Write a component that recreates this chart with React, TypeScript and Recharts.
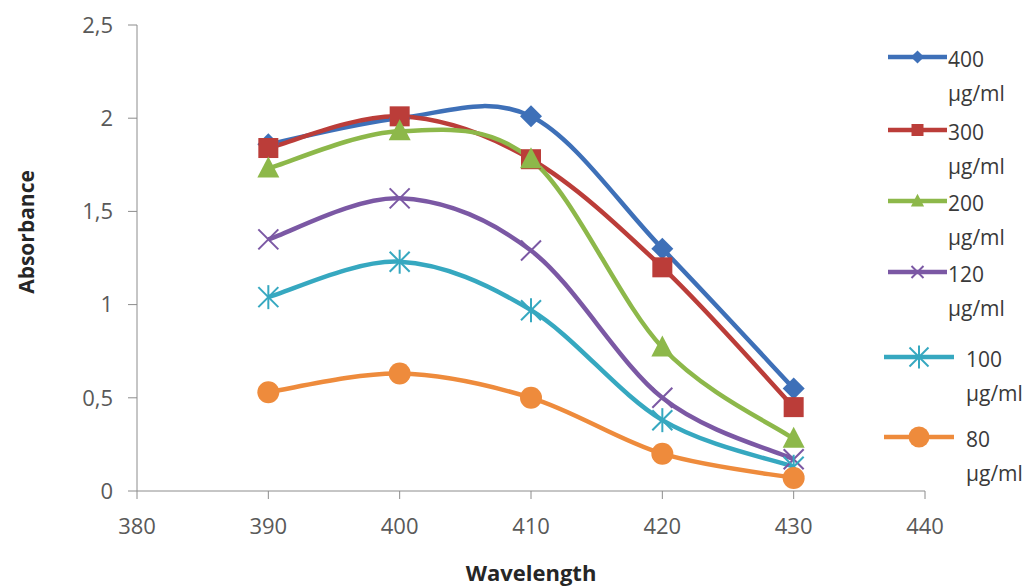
import { LineChart, Line, XAxis, YAxis, Legend, Label } from 'recharts';

const wavelengths = [390, 400, 410, 420, 430];
const abs400 = [1.86, 2.0, 2.01, 1.3, 0.55];
const abs300 = [1.84, 2.01, 1.78, 1.2, 0.45];
const abs200 = [1.73, 1.93, 1.78, 0.77, 0.28];
const abs120 = [1.35, 1.57, 1.29, 0.5, 0.17];
const abs100 = [1.04, 1.23, 0.97, 0.38, 0.13];
const abs80 = [0.53, 0.63, 0.5, 0.2, 0.07];

const xTicks = [380, 390, 400, 410, 420, 430, 440];
const yTicks = [0, 0.5, 1, 1.5, 2, 2.5];

const data = wavelengths.map((w, i) => ({
  w,
  c400: abs400[i],
  c300: abs300[i],
  c200: abs200[i],
  c120: abs120[i],
  c100: abs100[i],
  c80: abs80[i],
}));

type Shape = 'diamond' | 'square' | 'triangle' | 'x' | 'star' | 'circle';

const SERIES: { key: string; label: string; color: string; shape: Shape }[] = [
  { key: 'c400', label: '400', color: '#3e70b8', shape: 'diamond' },
  { key: 'c300', label: '300', color: '#bb3d39', shape: 'square' },
  { key: 'c200', label: '200', color: '#8db84a', shape: 'triangle' },
  { key: 'c120', label: '120', color: '#7b58a4', shape: 'x' },
  { key: 'c100', label: '100', color: '#36a8c0', shape: 'star' },
  { key: 'c80', label: '80', color: '#ee8b3c', shape: 'circle' },
];

const FONT = '"Open Sans", "Noto Sans", sans-serif';

// excel-like smoothed line (catmull-rom through the points)
const excelSmooth = (context: any) => {
  let pts: number[][] = [];
  return {
    areaStart() {},
    areaEnd() {},
    lineStart() {
      pts = [];
    },
    point(x: number, y: number) {
      pts.push([+x, +y]);
    },
    lineEnd() {
      if (!pts.length) return;
      context.moveTo(pts[0][0], pts[0][1]);
      for (let i = 0; i < pts.length - 1; i++) {
        const p0 = pts[i - 1] || pts[i];
        const p1 = pts[i];
        const p2 = pts[i + 1];
        const p3 = pts[i + 2] || p2;
        context.bezierCurveTo(
          p1[0] + (p2[0] - p0[0]) / 6,
          p1[1] + (p2[1] - p0[1]) / 6,
          p2[0] - (p3[0] - p1[0]) / 6,
          p2[1] - (p3[1] - p1[1]) / 6,
          p2[0],
          p2[1]
        );
      }
    },
  };
};

function Marker({ shape, color, cx, cy, s = 1 }: { shape: Shape; color: string; cx: number; cy: number; s?: number }) {
  switch (shape) {
    case 'diamond':
      return <path d={`M${cx},${cy - 11 * s} L${cx + 11 * s},${cy} L${cx},${cy + 11 * s} L${cx - 11 * s},${cy} Z`} fill={color} />;
    case 'square':
      return <rect x={cx - 10 * s} y={cy - 10 * s} width={20 * s} height={20 * s} fill={color} />;
    case 'triangle':
      return <path d={`M${cx},${cy - 12 * s} L${cx + 11 * s},${cy + 9 * s} L${cx - 11 * s},${cy + 9 * s} Z`} fill={color} />;
    case 'x':
      return (
        <g stroke={color} strokeWidth={2}>
          <line x1={cx - 10 * s} y1={cy - 10 * s} x2={cx + 10 * s} y2={cy + 10 * s} />
          <line x1={cx - 10 * s} y1={cy + 10 * s} x2={cx + 10 * s} y2={cy - 10 * s} />
        </g>
      );
    case 'star':
      return (
        <g stroke={color} strokeWidth={2}>
          <line x1={cx - 10 * s} y1={cy - 10 * s} x2={cx + 10 * s} y2={cy + 10 * s} />
          <line x1={cx - 10 * s} y1={cy + 10 * s} x2={cx + 10 * s} y2={cy - 10 * s} />
          <line x1={cx} y1={cy - 12 * s} x2={cx} y2={cy + 12 * s} />
        </g>
      );
    default:
      return <circle cx={cx} cy={cy} r={11 * s} fill={color} />;
  }
}

const legendRows = [17, 90, 161, 232, 317, 397];

function renderLegend() {
  return (
    <svg width={144} height={460} style={{ display: 'block' }}>
      {SERIES.map((s, i) => {
        const y = legendRows[i];
        const wide = i >= 4;
        const x1 = wide ? 0 : 4;
        const x2 = wide ? 70 : 63;
        const tx = wide ? 82 : 64;
        return (
          <g key={s.key}>
            <line x1={x1} y1={y} x2={x2} y2={y} stroke={s.color} strokeWidth={4.5} />
            <Marker shape={s.shape} color={s.color} cx={(x1 + x2) / 2} cy={y} s={wide ? 0.95 : 0.6} />
            <text x={tx} y={y + 10} fontSize={21} fill="#3a3a3a" fontFamily={FONT}>
              {s.label}
            </text>
            <text x={tx} y={y + 44} fontSize={21} fill="#3a3a3a" fontFamily={FONT}>
              µg/ml
            </text>
          </g>
        );
      })}
    </svg>
  );
}

export default function App() {
  return (
    <div style={{ position: 'absolute', left: 0, top: 0, width: 1030, height: 588, background: '#fff' }}>
      <LineChart width={1030} height={588} data={data} margin={{ top: 25, right: 105, bottom: 0, left: 0 }}>
        <XAxis
          dataKey="w"
          type="number"
          domain={[380, 440]}
          ticks={xTicks}
          height={97}
          stroke="#8c8c8c"
          tickSize={8}
          tickMargin={19}
          tick={{ fill: '#595959', fontSize: 22, fontFamily: FONT }}
        >
          <Label
            content={() => (
              <text x={531} y={581} textAnchor="middle" fontSize={22} fontWeight="bold" fill="#262626" fontFamily={FONT}>
                Wavelength
              </text>
            )}
          />
        </XAxis>
        <YAxis
          type="number"
          domain={[0, 2.5]}
          ticks={yTicks}
          width={137}
          stroke="#8c8c8c"
          tickSize={9}
          tickMargin={15}
          tickFormatter={(v: number) => String(v).replace('.', ',')}
          tick={{ fill: '#595959', fontSize: 22, fontFamily: FONT }}
        >
          <Label
            content={() => (
              <text
                x={26}
                y={232}
                transform="rotate(-90 26 232)"
                textAnchor="middle"
                dominantBaseline="central"
                fontSize={21}
                fontWeight="bold"
                fill="#262626"
                fontFamily={FONT}
              >
                Absorbance
              </text>
            )}
          />
        </YAxis>
        <Legend
          layout="horizontal"
          verticalAlign="middle"
          align="center"
          content={renderLegend}
          wrapperStyle={{ left: 884, top: 40, width: 144, height: 460 }}
        />
        {SERIES.map((s) => (
          <Line
            key={s.key}
            dataKey={s.key}
            type={excelSmooth as any}
            stroke={s.color}
            strokeWidth={4.5}
            isAnimationActive={false}
            dot={(p: any) => <Marker key={`${s.key}-${p.index}`} shape={s.shape} color={s.color} cx={p.cx} cy={p.cy} />}
            activeDot={false}
          />
        ))}
      </LineChart>
    </div>
  );
}
